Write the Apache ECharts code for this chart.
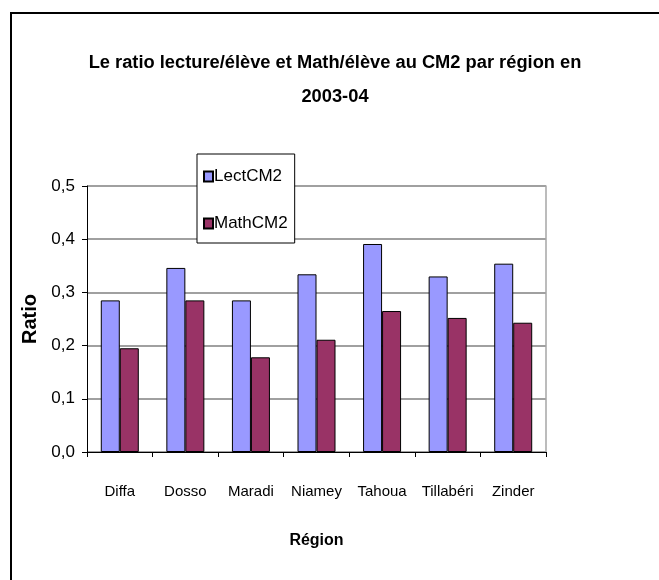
<!DOCTYPE html>
<html>
<head>
<meta charset="utf-8">
<title>Ratio lecture/élève et Math/élève au CM2</title>
<script src="https://cdn.jsdelivr.net/npm/echarts@6/dist/echarts.min.js"></script>
<style>
  html, body { margin: 0; padding: 0; background: #fff; }
  #chart { width: 659px; height: 580px; }
</style>
</head>
<body>
<div id="chart"></div>
<script>
// données
var regions = ['Diffa', 'Dosso', 'Maradi', 'Niamey', 'Tahoua', 'Tillabéri', 'Zinder'];
var lectCM2 = [0.285, 0.346, 0.285, 0.334, 0.391, 0.330, 0.354];
var mathCM2 = [0.195, 0.285, 0.178, 0.211, 0.265, 0.252, 0.243];
var yTickLabels = ['0,0', '0,1', '0,2', '0,3', '0,4', '0,5'];

var font = "'Liberation Sans Narrow', 'Liberation Sans', Arial, sans-serif";

var chart = echarts.init(document.getElementById('chart'));
chart.setOption({
    animation: false,
    backgroundColor: '#fff',
    title: {
        text: 'Le ratio lecture/élève et Math/élève au CM2 par région en\n2003-04',
        left: 335,
        top: 46,
        padding: 0,
        textAlign: 'center',
        textStyle: {
            fontFamily: font,
            fontWeight: 'bold',
            fontSize: 18.3,
            lineHeight: 34,
            color: '#000'
        }
    },
    legend: {
        orient: 'vertical',
        left: 197,
        top: 154,
        padding: [14, 7, 11, 6],
        itemGap: 30,
        itemWidth: 9,
        itemHeight: 10,
        backgroundColor: '#fff',
        borderColor: '#000',
        borderWidth: 1,
        borderRadius: 0,
        icon: 'rect',
        textStyle: {
            fontFamily: font,
            fontSize: 17,
            color: '#000',
            padding: [0, 0, 0, -4]
        },
        data: ['LectCM2', 'MathCM2']
    },
    grid: {
        left: 87,
        right: 113,
        top: 186,
        bottom: 128
    },
    xAxis: {
        type: 'category',
        data: regions,
        name: 'Région',
        nameLocation: 'middle',
        nameGap: 81,
        nameTextStyle: {
            fontFamily: font,
            fontWeight: 'bold',
            fontSize: 16,
            color: '#000'
        },
        axisLine: { lineStyle: { color: '#000', width: 1 } },
        axisTick: { show: true, length: 5, lineStyle: { color: '#000' } },
        axisLabel: {
            interval: 0,
            margin: 32,
            fontFamily: font,
            fontSize: 15,
            color: '#000'
        }
    },
    yAxis: [{
        type: 'value',
        min: 0,
        max: 0.5,
        interval: 0.1,
        name: 'Ratio',
        nameLocation: 'middle',
        nameGap: 45,
        nameRotate: 90,
        nameTextStyle: {
            fontFamily: "'Liberation Sans', Arial, sans-serif",
            fontWeight: 'bold',
            fontSize: 20,
            color: '#000'
        },
        axisLine: { show: true, lineStyle: { color: '#000', width: 1 } },
        axisTick: { show: true, inside: false, length: 5, lineStyle: { color: '#000' } },
        axisLabel: {
            margin: 12,
            fontFamily: font,
            fontSize: 17,
            color: '#000',
            formatter: function (v) { return yTickLabels[Math.round(v * 10)]; }
        },
        splitLine: { show: true, lineStyle: { color: '#808080', width: 1.5 } }
    }, {
        // bord droit de la zone de tracé
        type: 'value',
        position: 'right',
        min: 0,
        max: 0.5,
        interval: 0.1,
        axisLine: { show: true, lineStyle: { color: '#a6a6a6', width: 1.5 } },
        axisTick: { show: false },
        axisLabel: { show: false },
        splitLine: { show: false }
    }],
    series: [{
        type: 'bar',
        name: 'LectCM2',
        barWidth: 19,
        barGap: '0%',
        itemStyle: { color: '#9999ff', borderColor: '#000', borderWidth: 1 },
        data: lectCM2
    }, {
        type: 'bar',
        name: 'MathCM2',
        barWidth: 19,
        barGap: '0%',
        itemStyle: { color: '#993366', borderColor: '#000', borderWidth: 1 },
        data: mathCM2
    }],
    graphic: [{
        // cadre du graphique (coins droit et bas hors image)
        type: 'rect',
        shape: { x: 11, y: 13, width: 800, height: 800 },
        style: { fill: 'none', stroke: '#000', lineWidth: 2 },
        silent: true
    }]
});
</script>
</body>
</html>
